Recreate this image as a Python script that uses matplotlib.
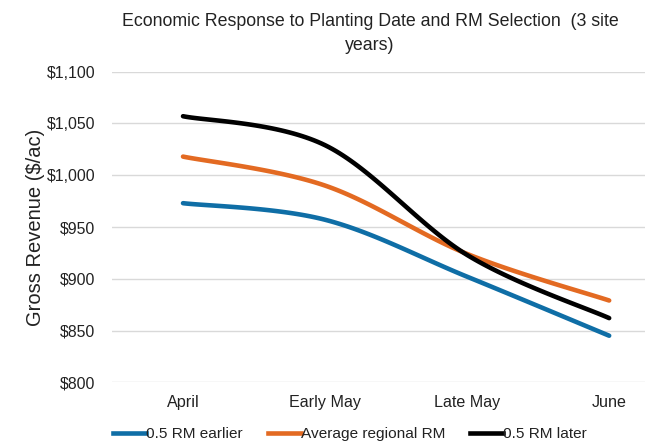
import numpy as np
import matplotlib
matplotlib.use("Agg")
import matplotlib.pyplot as plt
from matplotlib.lines import Line2D

categories = ["April", "Early May", "Late May", "June"]
rm_earlier = [973, 957, 902, 845]
avg_regional = [1018, 990, 924, 879]
rm_later = [1057, 1029, 923, 862]
series_names = ["0.5 RM earlier", "Average regional RM", "0.5 RM later"]
colors = ["#0F6EA6", "#E36A22", "#000000"]
yticks = [800, 850, 900, 950, 1000, 1050, 1100]

plt.rcParams['font.family'] = ['Liberation Sans', 'DejaVu Sans']


def smooth(xs, ys, n=40):
    # Excel-style smoothed line: cubic Bezier with Catmull-Rom control points
    xs = np.asarray(xs, float); ys = np.asarray(ys, float)
    P = np.column_stack([xs, ys])
    out = []
    for i in range(len(P) - 1):
        p0 = P[i - 1] if i > 0 else P[i]
        p1 = P[i]; p2 = P[i + 1]
        p3 = P[i + 2] if i + 2 < len(P) else P[i + 1]
        c1 = p1 + (p2 - p0) / 6.0
        c2 = p2 - (p3 - p1) / 6.0
        t = np.linspace(0, 1, n)[:, None]
        seg = ((1 - t) ** 3) * p1 + 3 * ((1 - t) ** 2) * t * c1 + 3 * (1 - t) * t ** 2 * c2 + t ** 3 * p2
        out.append(seg if i == 0 else seg[1:])
    S = np.vstack(out)
    return S[:, 0], S[:, 1]


fig = plt.figure(figsize=(6.53, 4.42), dpi=100)
ax = fig.add_axes([112 / 653, 1 - 382.3 / 442, (645 - 112) / 653, (382.3 - 71.7) / 442])

x = np.arange(len(categories))
for vals, c in zip([rm_earlier, avg_regional, rm_later], colors):
    sx, sy = smooth(x, vals)
    ax.plot(sx, sy, color=c, lw=3.3, solid_capstyle='round', zorder=3, clip_on=False)

ax.set_xlim(-0.5, 3 + 36 / 142.7)
ax.set_ylim(800, 1100)
ax.set_yticks(yticks)
ax.set_yticklabels([f"${v:,}" for v in yticks], fontsize=11.4, color="#222222")
ax.set_xticks(x)
ax.set_xticklabels(categories, fontsize=11.6, color="#222222")
ax.tick_params(axis='both', length=0)
ax.tick_params(axis='y', pad=12)
ax.tick_params(axis='x', pad=9)
ax.grid(axis='y', color="#D9D9D9", lw=1.0)
ax.set_axisbelow(True)
for s in ax.spines.values():
    s.set_visible(False)

ax.set_ylabel("Gross Revenue ($/ac)", fontsize=14.5, color="#222222")
ax.yaxis.set_label_coords((45 - 112) / (645 - 112), 0.5)

fig.text(370 / 653, 1 - 22 / 442, "Economic Response to Planting Date and RM Selection  (3 site",
         ha='center', va='center', fontsize=12.8, color="#222222")
fig.text(370 / 653, 1 - 46 / 442, "years)", ha='center', va='center', fontsize=12.8, color="#222222")

handles = [Line2D([0], [0], color=c, lw=3.3) for c in colors]
fig.legend(handles, series_names, loc='center', bbox_to_anchor=(350 / 653, 1 - 434 / 442),
           ncol=3, frameon=False, fontsize=11.1, handlelength=2.15, handletextpad=0.0,
           columnspacing=1.6, labelcolor="#222222")

fig.savefig("out.png", dpi=100)
